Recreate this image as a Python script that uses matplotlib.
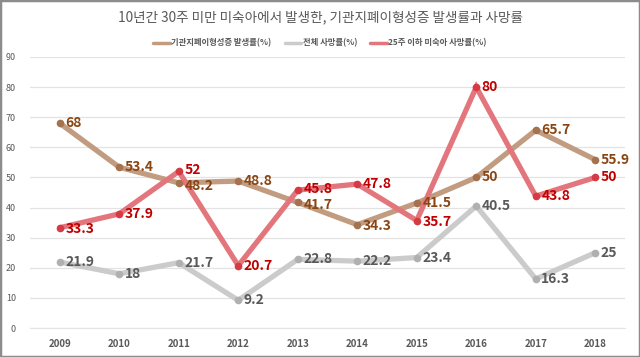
import matplotlib
matplotlib.use('Agg')
import matplotlib.pyplot as plt
from matplotlib.patches import Rectangle

plt.rcParams['font.family'] = ['Noto Sans CJK KR', 'DejaVu Sans']

years = ['2009', '2010', '2011', '2012', '2013', '2014', '2015', '2016', '2017', '2018']
bpd_rate = [68, 53.4, 48.2, 48.8, 41.7, 34.3, 41.5, 50, 65.7, 55.9]
total_death = [21.9, 18, 21.7, 9.2, 22.8, 22.2, 23.4, 40.5, 16.3, 25]
death_25wk = [33.3, 37.9, 52, 20.7, 45.8, 47.8, 35.7, 80, 43.8, 50]

names = ['기관지폐이형성증 발생률(%)', '전체 사망률(%)', '25주 이하 미숙아 사망률(%)']
title = '10년간 30주 미만 미숙아에서 발생한, 기관지폐이형성증 발생률과 사망률'

# small vertical nudges (points) for labels that would collide
bpd_dy = [0, 0, -2, 0, -2, -1, 0, 0, 0, 0]
death_dy = [0, 0, 0, 0, 0, 0, 0, 0, 0, 0]
d25_dy = [-1, 0, 1, 0, 1, 0, -1, 0, 0, 0]

fig = plt.figure(figsize=(6.4, 3.57), dpi=100)
ax = fig.add_axes([30 / 640, 1 - 328 / 357, 595 / 640, 271 / 357])

x = list(range(len(years)))
series = [
    (bpd_rate, bpd_dy, '#c29c80', '#a5724f', '#8a4512'),
    (total_death, death_dy, '#cbcbcb', '#b0b0b0', '#595959'),
    (death_25wk, d25_dy, '#e3757c', '#d63a44', '#c00000'),
]
handles = []
for (vals, dys, lc, mc, tc), name in zip(series, names):
    h, = ax.plot(x, vals, color=lc, lw=3.8, solid_capstyle='round',
                 solid_joinstyle='miter', label=name, zorder=2)
    ax.plot(x, vals, 'o', color=mc, ms=4.5, zorder=3)
    handles.append(h)
    for xi, v, dy in zip(x, vals, dys):
        ax.annotate(f'{v:g}', (xi, v), xytext=(4, dy), textcoords='offset points',
                    ha='left', va='center', fontsize=10, fontweight='bold',
                    color=tc, zorder=4)

ax.set_xlim(-0.5, 9.5)
ax.set_ylim(0, 90)
ax.set_yticks(range(0, 91, 10))
ax.set_xticks(x)
ax.set_xticklabels(years, fontsize=7, fontweight='bold', color='#595959')
ax.tick_params(axis='y', labelsize=6.5, labelcolor='#595959', length=0, pad=10)
ax.tick_params(axis='x', length=0, pad=8)
ax.grid(axis='y', color='#e3e3e3', lw=0.9)
ax.set_axisbelow(True)
for s in ax.spines.values():
    s.set_visible(False)
ax.spines['bottom'].set_visible(True)
ax.spines['bottom'].set_color('#e3e3e3')

fig.text(0.5, 1 - 17 / 357, title, ha='center', va='center', fontsize=9.8, color='#595959')
leg = fig.legend(handles=handles, loc='center', bbox_to_anchor=(0.5, 1 - 43 / 357), ncol=3,
                 frameon=False, fontsize=6, handlelength=2.0, handletextpad=0.15,
                 columnspacing=1.6)
for t in leg.get_texts():
    t.set_color('#595959')
    t.set_fontweight('bold')
for lh in leg.get_lines():
    lh.set_linewidth(2.5)

fig.patches.append(Rectangle((0, 0), 1, 1, transform=fig.transFigure, fill=False,
                             edgecolor='#8c8c8c', lw=2.5))

fig.savefig('out.png', dpi=100)
